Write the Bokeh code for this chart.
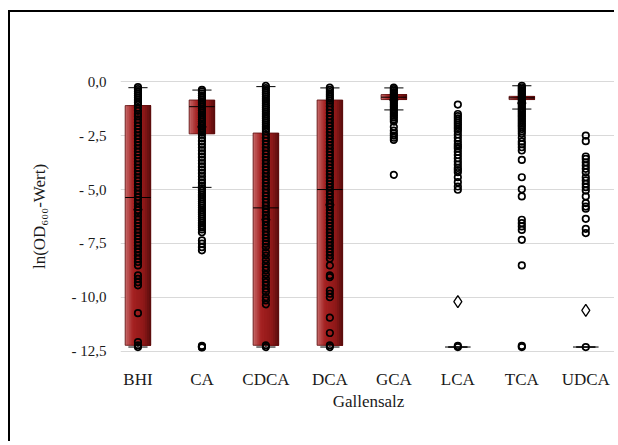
from bokeh.plotting import figure
from bokeh.models import Range1d, FixedTicker
from bokeh.embed import file_html
from bokeh.resources import INLINE

# ---------------- data ----------------
categories = ["BHI", "CA", "CDCA", "DCA", "GCA", "LCA", "TCA", "UDCA"]

q1 = [-12.22, -2.42, -12.22, -12.22, -0.83, -12.3, -0.83, -12.3]
median = [-5.37, -1.16, -5.85, -5.0, -0.72, -12.3, -0.75, -12.3]
q3 = [-1.11, -0.85, -2.38, -0.85, -0.6, -12.3, -0.68, -12.3]
whisker_low = [-12.3, -4.9, -12.3, -12.3, -1.31, -12.3, -1.27, -12.3]
whisker_high = [-0.28, -0.39, -0.23, -0.29, -0.29, -12.3, -0.19, -12.3]
means = [-5.93, -2.1, -6.4, -5.71, -0.85, -10.2, -1.0, -10.6]

pts_bhi = [-0.25, -0.35, -0.45, -0.55, -0.65, -0.75, -0.85, -0.95, -1.05, -1.2,
           -1.35, -1.5, -1.6, -1.75, -1.9, -2.05, -2.2, -2.35, -2.5, -2.65,
           -2.8, -2.95, -3.1, -3.25, -3.4, -3.55, -3.7, -3.85, -4.0, -4.15,
           -4.3, -4.45, -4.6, -4.75, -4.9, -5.05, -5.2, -5.35, -5.5, -5.65,
           -5.8, -5.95, -6.1, -6.25, -6.4, -6.55, -6.7, -6.85, -7.0, -7.15,
           -7.3, -7.45, -7.59, -7.75, -7.9, -8.06, -8.21, -8.36, -8.52, -8.98,
           -9.14, -9.3, -9.44, -10.73, -12.07, -12.22, -12.3]
pts_ca = [-0.38, -0.45, -0.55, -0.65, -0.75, -0.85, -0.95, -1.05, -1.15, -1.25,
          -1.35, -1.45, -1.55, -1.65, -1.75, -1.85, -1.95, -2.05, -2.15, -2.25,
          -2.35, -2.45, -2.6, -2.75, -2.9, -3.05, -3.2, -3.35, -3.5, -3.65,
          -3.8, -3.95, -4.1, -4.25, -4.4, -4.55, -4.7, -4.85, -4.95, -5.05,
          -5.15, -5.25, -5.35, -5.45, -5.55, -5.65, -5.75, -5.85, -5.95, -6.05,
          -6.15, -6.25, -6.35, -6.45, -6.55, -6.65, -6.75, -6.85, -6.98, -7.36,
          -7.51, -7.67, -7.82, -12.25, -12.28, -12.3, -12.32]
pts_cdca = [-0.2, -0.3, -0.4, -0.5, -0.6, -0.7, -0.8, -0.9, -1.0, -1.1,
            -1.2, -1.3, -1.4, -1.5, -1.6, -1.7, -1.8, -1.9, -2.0, -2.1,
            -2.2, -2.3, -2.45, -2.6, -2.75, -2.9, -3.05, -3.2, -3.35, -3.5,
            -3.65, -3.8, -3.95, -4.1, -4.25, -4.4, -4.55, -4.7, -4.85, -5.0,
            -5.15, -5.3, -5.45, -5.6, -5.75, -5.9, -6.05, -6.2, -6.35, -6.5,
            -6.65, -6.8, -6.95, -7.1, -7.25, -7.4, -7.52, -7.67, -7.9, -8.06,
            -8.26, -8.44, -8.6, -8.75, -8.94, -9.13, -9.29, -9.44, -9.6, -9.75,
            -9.99, -10.14, -10.32, -12.22, -12.3]
pts_dca = [-0.28, -0.38, -0.48, -0.58, -0.68, -0.78, -0.88, -1.0, -1.15, -1.3,
           -1.45, -1.6, -1.75, -1.9, -2.05, -2.2, -2.35, -2.5, -2.65, -2.8,
           -2.95, -3.1, -3.25, -3.4, -3.55, -3.7, -3.85, -4.0, -4.15, -4.3,
           -4.45, -4.6, -4.75, -4.9, -5.05, -5.2, -5.35, -5.5, -5.65, -5.8,
           -5.95, -6.1, -6.25, -6.4, -6.55, -6.7, -6.85, -7.0, -7.15, -7.3,
           -7.45, -7.6, -7.75, -7.9, -8.05, -8.2, -8.52, -8.98, -9.06, -9.68,
           -9.83, -9.99, -10.94, -11.65, -12.22, -12.3]
pts_gca = [-0.28, -0.35, -0.42, -0.5, -0.57, -0.64, -0.71, -0.78, -0.86, -0.94,
           -1.02, -1.1, -1.18, -1.26, -1.34, -1.42, -1.5, -1.58, -1.66, -1.75,
           -1.85, -2.1, -2.27, -2.4, -2.5, -2.6, -2.7, -4.32]
pts_lca = [-1.06, -1.5, -1.6, -1.7, -1.8, -1.9, -2.0, -2.1, -2.2, -2.3,
           -2.45, -2.6, -2.75, -2.9, -3.0, -3.1, -3.25, -3.4, -3.55, -3.7,
           -3.85, -4.0, -4.1, -4.2, -4.43, -4.66, -4.86, -5.01, -12.25, -12.3]
pts_tca = [-0.19, -0.26, -0.33, -0.4, -0.47, -0.54, -0.61, -0.68, -0.75, -0.82,
           -0.9, -0.98, -1.06, -1.14, -1.22, -1.3, -1.38, -1.46, -1.54, -1.62,
           -1.7, -1.78, -1.86, -1.94, -2.02, -2.1, -2.2, -2.3, -2.42, -2.6,
           -2.78, -2.9, -3.04, -3.19, -3.63, -4.43, -4.99, -5.32, -6.4, -6.56,
           -6.71, -6.87, -7.33, -8.52, -12.25, -12.3]
pts_udca = [-2.5, -2.76, -3.47, -3.58, -3.74, -3.89, -4.04, -4.2, -4.43, -4.58,
            -4.74, -4.89, -5.05, -5.32, -5.63, -5.79, -5.89, -6.36, -6.82, -7.02,
            -12.3]
points = [pts_bhi, pts_ca, pts_cdca, pts_dca, pts_gca, pts_lca, pts_tca, pts_udca]

y_ticks = [0.0, -2.5, -5.0, -7.5, -10.0, -12.5]
y_tick_labels = ["0,0", "- 2,5", "- 5,0", "- 7,5", "- 10,0", "- 12,5"]

x_title = "Gallensalz"
y_title = "ln(OD\u2086\u2080\u2080-Wert)"

# ---------------- styling ----------------
FONT = "Liberation Serif"
TEXT = "#1a1a1a"
BOX_W = 0.4
CAP_W = 0.3
N_STRIPS = 14

idx = list(range(len(categories)))

p = figure(width=606, height=431, output_backend="svg", toolbar_location=None,
           x_range=Range1d(-0.273, 7.48), y_range=Range1d(-12.6, 0.1),
           min_border_left=110, min_border_right=0, min_border_top=67,
           min_border_bottom=90,
           styles={"border-top": "2px solid black", "border-left": "2px solid black",
                   "margin-left": "8px", "margin-top": "10px"})
p.outline_line_color = None
p.background_fill_color = "white"
p.border_fill_color = "white"

# grid
p.xgrid.grid_line_color = None
p.ygrid.grid_line_color = "#d9d9d9"
p.ygrid.grid_line_width = 1

# axes
p.xaxis.ticker = FixedTicker(ticks=idx)
p.xaxis.major_label_overrides = {i: c for i, c in zip(idx, categories)}
p.yaxis.ticker = FixedTicker(ticks=y_ticks)
p.yaxis.major_label_overrides = {t: l for t, l in zip(y_ticks, y_tick_labels)}
for ax in (p.xaxis, p.yaxis):
    ax.axis_line_color = None
    ax.major_tick_line_color = None
    ax.minor_tick_line_color = None
    ax.major_label_text_font = FONT
    ax.major_label_text_color = TEXT
    ax.axis_label_text_font = FONT
    ax.axis_label_text_font_style = "normal"
    ax.axis_label_text_color = TEXT
p.xaxis.major_label_text_font_size = "17px"
p.yaxis.major_label_text_font_size = "15px"
p.xaxis.axis_label = x_title
p.yaxis.axis_label = y_title
p.xaxis.axis_label_text_font_size = "17px"
p.yaxis.axis_label_text_font_size = "17px"
p.xaxis.major_label_standoff = 10
p.xaxis.axis_label_standoff = 0
p.yaxis.major_label_standoff = 8
p.yaxis.axis_label_standoff = 20

# ---------------- boxes with a cylinder-like shading ----------------
def hex2rgb(h):
    h = h.lstrip("#")
    return tuple(int(h[i:i + 2], 16) for i in (0, 2, 4))

stops = [(0.0, "#c66a6a"), (0.3, "#a52121"), (0.72, "#8f1818"), (1.0, "#580c0c")]

def shade(t):
    for (t0, c0), (t1, c1) in zip(stops[:-1], stops[1:]):
        if t <= t1:
            a, b = hex2rgb(c0), hex2rgb(c1)
            f = (t - t0) / (t1 - t0)
            return "#%02x%02x%02x" % tuple(int(round(a[k] + (b[k] - a[k]) * f)) for k in range(3))
    return stops[-1][1]

has_box = [i for i in idx if q3[i] > q1[i]]
for k in range(N_STRIPS):
    lo = -BOX_W / 2 + k * BOX_W / N_STRIPS
    p.quad(left=[i + lo for i in has_box], right=[i + BOX_W / 2 for i in has_box],
           top=[q3[i] for i in has_box], bottom=[q1[i] for i in has_box],
           fill_color=shade((k + 0.5) / N_STRIPS), line_color=None)

p.quad(left=[i - BOX_W / 2 for i in has_box], right=[i + BOX_W / 2 for i in has_box],
       top=[q3[i] for i in has_box], bottom=[q1[i] for i in has_box],
       fill_color=None, line_color="#5a0e0e", line_width=0.8)

# whiskers
p.segment(x0=idx, y0=q3, x1=idx, y1=whisker_high, line_color="black", line_width=1)
p.segment(x0=idx, y0=q1, x1=idx, y1=whisker_low, line_color="black", line_width=1)

# medians
p.segment(x0=[i - BOX_W / 2 for i in idx], y0=median, x1=[i + BOX_W / 2 for i in idx],
          y1=median, line_color="black", line_width=1)

# points
xs, ys = [], []
for i, vals in zip(idx, points):
    xs += [i] * len(vals)
    ys += vals
p.scatter(x=xs, y=ys, marker="circle", size=6.5, fill_color=None,
          line_color="black", line_width=1.7)

# caps
p.segment(x0=[i - CAP_W / 2 for i in idx], y0=whisker_high, x1=[i + CAP_W / 2 for i in idx],
          y1=whisker_high, line_color="black", line_width=1)
p.segment(x0=[i - CAP_W / 2 for i in idx], y0=whisker_low, x1=[i + CAP_W / 2 for i in idx],
          y1=whisker_low, line_color="black", line_width=1)

# means
p.scatter(x=idx, y=means, marker="diamond", size=12, fill_color=None,
          line_color="black", line_width=1.3)

open("out.html", "w").write(file_html(p, INLINE))
